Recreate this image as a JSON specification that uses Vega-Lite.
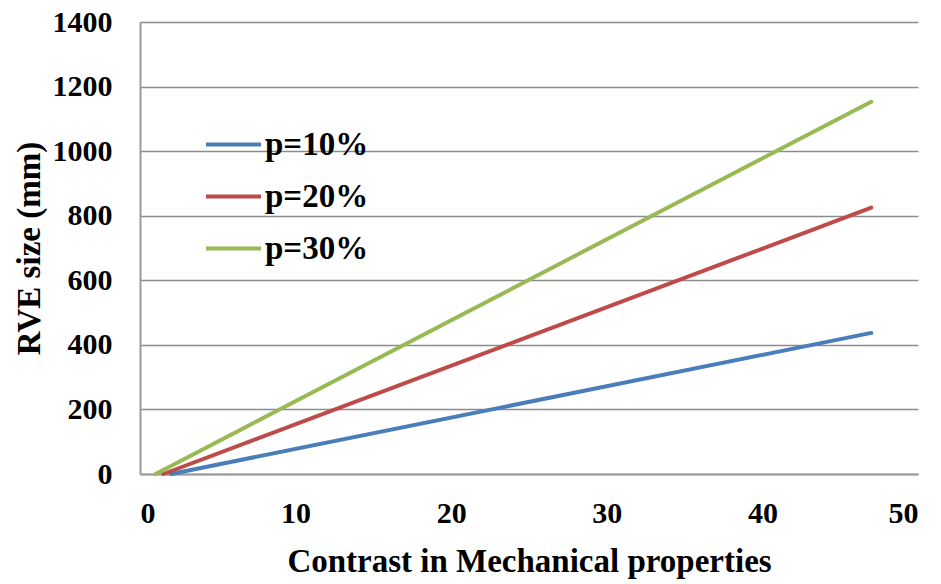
{
  "$schema": "https://vega.github.io/schema/vega-lite/v6.json",
  "width": 778,
  "height": 452,
  "autosize": {"type": "none"},
  "padding": {"left": 140, "top": 22, "right": 23, "bottom": 110},
  "background": "white",
  "config": {
    "view": {"stroke": null},
    "font": "Liberation Serif",
    "axis": {"labelFont": "Liberation Serif", "titleFont": "Liberation Serif"},
    "legend": {"labelFont": "Liberation Serif", "titleFont": "Liberation Serif"}
  },
  "data": {
    "values": [
      {"contrast": 2, "rve": 0, "series": "p=10%"},
      {"contrast": 47, "rve": 437, "series": "p=10%"},
      {"contrast": 1.5, "rve": 0, "series": "p=20%"},
      {"contrast": 47, "rve": 825, "series": "p=20%"},
      {"contrast": 1, "rve": 0, "series": "p=30%"},
      {"contrast": 47, "rve": 1153, "series": "p=30%"}
    ]
  },
  "mark": {"type": "line", "strokeWidth": 4, "strokeCap": "round"},
  "encoding": {
    "x": {
      "field": "contrast",
      "type": "quantitative",
      "scale": {"domain": [0, 50], "nice": false},
      "axis": {
        "values": [0, 10, 20, 30, 40, 50],
        "format": "d",
        "title": "Contrast in Mechanical properties",
        "titleFontSize": 33,
        "titleFontWeight": "bold",
        "titleColor": "black",
        "titlePadding": 17,
        "labelFontSize": 30,
        "labelFontWeight": "bold",
        "labelColor": "black",
        "labelPadding": 24,
        "ticks": false,
        "grid": false,
        "domainColor": "#9a9a9a",
        "domainWidth": 2
      }
    },
    "y": {
      "field": "rve",
      "type": "quantitative",
      "scale": {"domain": [0, 1400], "nice": false},
      "axis": {
        "values": [0, 200, 400, 600, 800, 1000, 1200, 1400],
        "format": "d",
        "title": "RVE size (mm)",
        "titleFontSize": 33,
        "titleFontWeight": "bold",
        "titleColor": "black",
        "titlePadding": 6,
        "labelFontSize": 30,
        "labelFontWeight": "bold",
        "labelColor": "black",
        "labelPadding": 28,
        "ticks": false,
        "grid": true,
        "gridColor": "#8c8c8c",
        "gridWidth": 1.5,
        "domainColor": "#9a9a9a",
        "domainWidth": 2
      }
    },
    "color": {
      "field": "series",
      "type": "nominal",
      "scale": {
        "domain": ["p=10%", "p=20%", "p=30%"],
        "range": ["#4A7EBB", "#BE4B48", "#98B954"]
      },
      "legend": {
        "title": null,
        "orient": "none",
        "legendX": 64,
        "legendY": 93,
        "symbolType": "stroke",
        "symbolSize": 3025,
        "symbolStrokeWidth": 4,
        "rowPadding": 5,
        "labelFont": "Liberation Serif",
        "labelFontSize": 33,
        "labelFontWeight": "bold",
        "labelColor": "black",
        "labelOffset": 2
      }
    }
  }
}
